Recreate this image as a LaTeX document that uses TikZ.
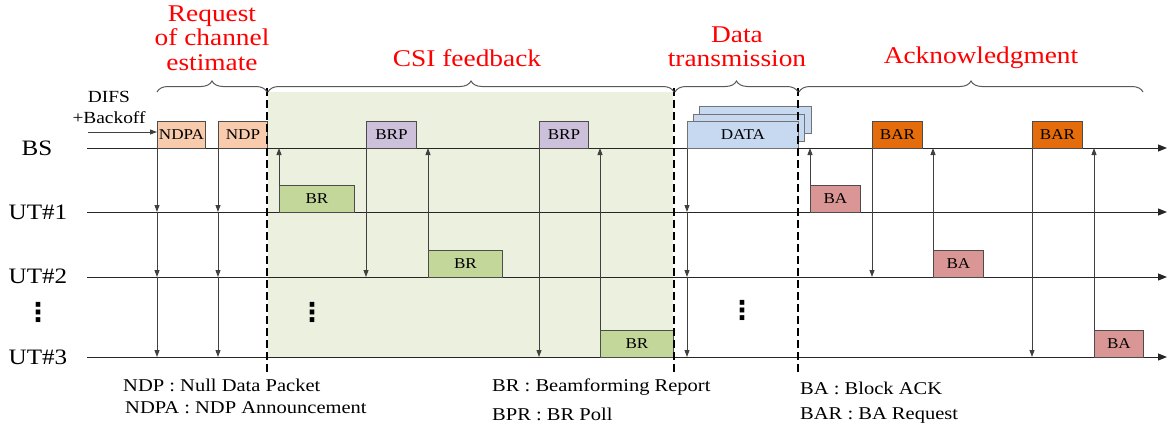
\documentclass[tikz,border=0pt]{standalone}
\usepackage{fontspec}
\setmainfont[FakeStretch=1.14]{Liberation Serif}
\newfontfamily\symfont{DejaVu Sans}
\usetikzlibrary{decorations.pathreplacing,arrows.meta}
\definecolor{ndpcol}{HTML}{F8CBAD}
\definecolor{brpcol}{HTML}{CCC0DA}
\definecolor{brcol}{HTML}{C4D79B}
\definecolor{csibg}{HTML}{EBF1DE}
\definecolor{datacol}{HTML}{C6D9F1}
\definecolor{barcol}{HTML}{E46C0A}
\definecolor{bacol}{HTML}{DA9694}
\definecolor{linecol}{HTML}{262626}
\definecolor{sigcol}{HTML}{404040}
\begin{document}
\begin{tikzpicture}[x=1pt,y=-1pt,
  axis/.style={draw=linecol,line width=1pt,-{Triangle[length=9pt,width=7pt]}},
  sig/.style={draw=sigcol,line width=0.9pt,-{Triangle[length=7pt,width=5pt]}},
  pkt/.style={draw=black!70,line width=0.9pt,inner sep=0pt,minimum height=27pt,anchor=north west,font=\fontsize{15}{15}\selectfont},
  datapkt/.style={pkt,fill=datacol,draw=black!55},
  sep/.style={draw=black,line width=2.6pt,dash pattern=on 8pt off 4pt},
  brc/.style={draw=black!65,line width=1pt,decorate,decoration={brace,amplitude=11pt}},
  phase/.style={text=red,align=center,font=\fontsize{24}{24.5}\selectfont},
  lab/.style={font=\fontsize{22}{22}\selectfont},
  legend/.style={anchor=west,inner sep=0pt,font=\fontsize{18}{18}\selectfont},
  dotsl/.style={inner sep=0pt,font=\symfont\bfseries\fontsize{26}{26}\selectfont}
]
\useasboundingbox (0,0) rectangle (1171,431);

% shaded CSI region
\fill[csibg] (268,92) rectangle (673,357);

% time lines
\coordinate (bsL) at (87,148);  \coordinate (bsR) at (1167,148);
\coordinate (u1L) at (87,212);  \coordinate (u1R) at (1167,212);
\coordinate (u2L) at (87,277);  \coordinate (u2R) at (1167,277);
\coordinate (u3L) at (87,357);  \coordinate (u3R) at (1167,357);
\draw[axis] (bsL) -- (bsR);
\draw[axis] (u1L) -- (u1R);
\draw[axis] (u2L) -- (u2R);
\draw[axis] (u3L) -- (u3R);

% packets
\node[pkt,fill=ndpcol,minimum width=48pt] (ndpa) at (157,121) {NDPA};
\node[pkt,fill=ndpcol,minimum width=49pt] (ndp) at (218,121) {NDP};
\node[pkt,fill=brpcol,minimum width=50pt] (brp1) at (366,121) {BRP};
\node[pkt,fill=brpcol,minimum width=49pt] (brp2) at (539,121) {BRP};
\node[pkt,fill=brcol,minimum width=75pt] (br1) at (279,185) {BR};
\node[pkt,fill=brcol,minimum width=74pt] (br2) at (428,250) {BR};
\node[pkt,fill=brcol,minimum width=73pt] (br3) at (600,330) {BR};
\node[datapkt,minimum width=112pt] (db2) at (699,106) {};
\node[datapkt,minimum width=111pt] (db1) at (693,114) {};
\node[datapkt,minimum width=111pt] (data) at (687,121) {DATA};
\node[pkt,fill=barcol,minimum width=50pt] (bar1) at (872,121) {BAR};
\node[pkt,fill=barcol,minimum width=50pt] (bar2) at (1032,121) {BAR};
\node[pkt,fill=bacol,minimum width=50pt] (ba1) at (810,185) {BA};
\node[pkt,fill=bacol,minimum width=50pt] (ba2) at (933,250) {BA};
\node[pkt,fill=bacol,minimum width=49pt] (ba3) at (1094,330) {BA};

% broadcast arrows
\foreach \n in {ndpa,ndp,data}{
  \draw[sig] (\n.south west) -- (\n.south west |- u1L);
  \draw[sig] (\n.south west |- u1L) -- (\n.south west |- u2L);
  \draw[sig] (\n.south west |- u2L) -- (\n.south west |- u3L);
}
% polls
\draw[sig] (brp1.south west) -- (brp1.south west |- u2L);
\draw[sig] (brp2.south west) -- (brp2.south west |- u3L);
\draw[sig] (bar1.south west) -- (bar1.south west |- u2L);
\draw[sig] (bar2.south west) -- (bar2.south west |- u3L);
% replies
\foreach \n in {br1,br2,br3,ba1,ba2,ba3}{
  \draw[sig] (\n.north west) -- (\n.north west |- bsL);
}

% DIFS
\node[align=center,font=\fontsize{17}{21}\selectfont] (difs) at (109,107) {DIFS\\+Backoff};
\coordinate (difsS) at (88,132);
\draw[sig] (difsS) -- (difsS -| ndpa.west);

% separators
\coordinate (s1t) at (267,88); \coordinate (s1b) at (267,373);
\coordinate (s2t) at (674,88); \coordinate (s2b) at (674,373);
\coordinate (s3t) at (798,88); \coordinate (s3b) at (798,373);
\draw[sep] (s1t) -- (s1b);
\draw[sep] (s2t) -- (s2b);
\draw[sep] (s3t) -- (s3b);

% braces
\coordinate (b1a) at (157,92);  \coordinate (b1b) at (267,92);
\coordinate (b2a) at (268,92);  \coordinate (b2b) at (674,92);
\coordinate (b3a) at (675,92);  \coordinate (b3b) at (798,92);
\coordinate (b4a) at (799,92);  \coordinate (b4b) at (1143,92);
\draw[brc] (b1a) -- (b1b);
\draw[brc] (b2a) -- (b2b);
\draw[brc] (b3a) -- (b3b);
\draw[brc] (b4a) -- (b4b);

% phase titles
\node[phase] (treq) at (212,38) {Request\\of channel\\estimate};
\node[phase] (tcsi) at (467,58) {CSI feedback};
\node[phase] (tdata) at (737,47) {Data\\transmission};
\node[phase] (tack) at (981,58) {Acknowledgment};

% station labels
\node[lab] (lbs) at (37,148) {BS};
\node[lab] (lu1) at (38,212) {UT\#1};
\node[lab] (lu2) at (38,276) {UT\#2};
\node[lab] (lu3) at (38,357) {UT\#3};
\node[dotsl] (ldots) at (38,312) {⋮};
\node[dotsl] (cdots) at (312,312) {⋮};
\node[dotsl] (ddots) at (742,310) {⋮};

% legend
\node[legend] (lg1) at (123,385) {NDP : Null Data Packet};
\node[legend] (lg2) at (125,408) {NDPA : NDP Announcement};
\node[legend] (lg3) at (492,387) {BR : Beamforming Report};
\node[legend] (lg4) at (492,414) {BPR : BR Poll};
\node[legend] (lg5) at (800,388) {BA : Block ACK};
\node[legend] (lg6) at (800,415) {BAR : BA Request};
\end{tikzpicture}
\end{document}
